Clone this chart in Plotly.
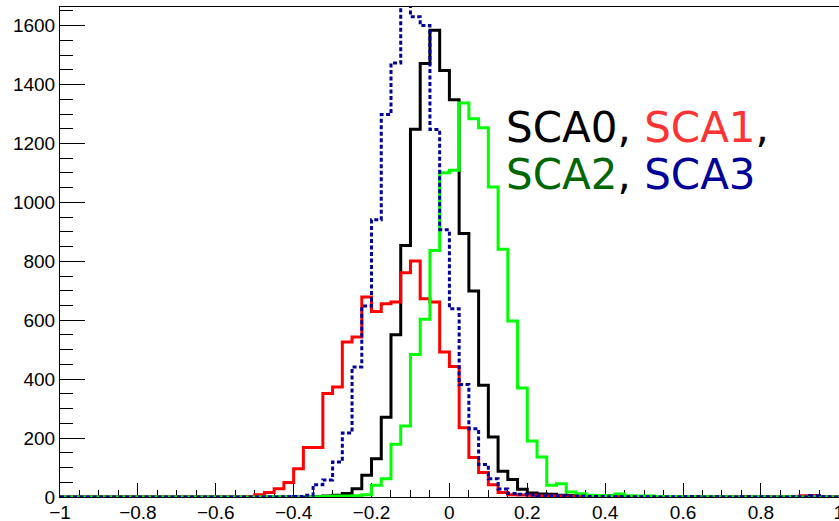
import numpy as np
import plotly.graph_objects as go

# 80 bins of width 0.025 spanning [-1, 1]
bin_low, bin_high, n_bins = -1.0, 1.0, 80

sca0 = [0]*20 + [
    0, 0, 0, 0, 0, 0, 1, 3, 6, 12, 28, 74, 130, 271, 551, 854, 1248, 1471, 1584, 1448,
    1348, 894, 699, 379, 204, 87, 59, 26, 14, 10, 9, 6, 5, 6, 4, 3, 4, 2, 2, 1,
    1, 0, 1, 0, 1, 0, 0, 0, 0, 0, 0, 0, 0, 0, 0, 0, 0, 0, 0, 0,
]
sca1 = [0]*19 + [2] + [
    8, 15, 28, 49, 96, 168, 168, 351, 373, 526, 543, 679, 630, 656, 662, 761, 801, 673, 662, 492,
    443, 235, 134, 83, 42, 15, 8, 7, 6, 4, 4, 3, 3, 2, 2, 1, 1, 1, 0, 0,
    0, 0, 0, 0, 0, 0, 0, 0, 0, 0, 1, 0, 0, 0, 0, 0, 4, 5, 0, 0,
]
sca2 = [0]*20 + [
    0, 0, 0, 0, 0, 1, 1, 2, 3, 3, 4, 8, 40, 62, 179, 241, 484, 603, 837, 1101,
    1109, 1337, 1284, 1253, 1052, 841, 597, 370, 190, 136, 40, 45, 17, 11, 6, 5, 4, 10, 4, 3,
    3, 2, 2, 1, 2, 1, 1, 0, 1, 0, 0, 1, 0, 0, 1, 0, 0, 1, 0, 0,
]
sca3 = [0]*20 + [
    0, 0, 0, 1, 2, 6, 42, 58, 119, 217, 441, 648, 941, 1298, 1473, 1720, 1630, 1600, 1247, 907,
    639, 382, 232, 110, 62, 27, 12, 9, 7, 5, 4, 4, 3, 3, 2, 2, 1, 1, 1, 1,
    1, 0, 1, 0, 2, 2, 0, 1, 0, 0, 1, 0, 1, 0, 0, 1, 0, 4, 1, 0,
]

x_tick_vals = [-1, -0.8, -0.6, -0.4, -0.2, 0, 0.2, 0.4, 0.6, 0.8, 1]
x_tick_text = ["\u22121", "\u22120.8", "\u22120.6", "\u22120.4", "\u22120.2",
               "0", "0.2", "0.4", "0.6", "0.8", "1"]

series = [
    ("SCA0", sca0, "#000000", "solid"),
    ("SCA1", sca1, "#ff0000", "solid"),
    ("SCA2", sca2, "#00ff00", "solid"),
    ("SCA3", sca3, "#000099", "4px,2.5px"),
]

edges = np.linspace(bin_low, bin_high, n_bins + 1)
y_max = 1.05 * max(sca0)

fig = go.Figure()
for name, counts, color, dash in series:
    ys = list(counts) + [counts[-1]]
    fig.add_trace(go.Scatter(
        x=edges, y=ys, mode="lines", name=name,
        line=dict(shape="hv", color=color, width=3, dash=dash),
        showlegend=False, hoverinfo="skip",
    ))

tick_font = dict(family="Liberation Sans, Arial, sans-serif", size=19, color="#000000")

fig.update_xaxes(
    range=[bin_low, bin_high + 0.0005], tickmode="array",
    tickvals=x_tick_vals, ticktext=x_tick_text, ticks="inside", ticklen=14,
    tickwidth=1, tickcolor="#000000", showline=True, linecolor="#000000", linewidth=1,
    mirror=True, showgrid=False, zeroline=False, tickfont=tick_font, automargin=False,
    ticklabelstandoff=-2, ticklabeloverflow="allow",
    minor=dict(tick0=-1, dtick=0.05, ticks="inside", ticklen=7, tickcolor="#000000",
               showgrid=False),
    layer="below traces",
)
fig.update_yaxes(
    range=[0, y_max], tick0=0, dtick=200, ticks="inside", ticklen=25,
    tickwidth=1, tickcolor="#000000", showline=True, linecolor="#000000", linewidth=1,
    mirror=True, showgrid=False, zeroline=False, tickfont=tick_font, automargin=False,
    minor=dict(dtick=50, ticks="inside", ticklen=13, tickcolor="#000000", showgrid=False),
    layer="below traces",
)

label_font = dict(family="DejaVu Sans", size=42, color="#000000")
fig.add_annotation(
    x=0.14, y=1255, xref="x", yref="y", xanchor="left", yanchor="middle",
    showarrow=False, font=label_font,
    text="<span style='color:#000000'>SCA0</span>, <span style='color:#ff3333'>SCA1</span>,",
)
fig.add_annotation(
    x=0.14, y=1095, xref="x", yref="y", xanchor="left", yanchor="middle",
    showarrow=False, font=label_font,
    text="<span style='color:#006600'>SCA2</span>, <span style='color:#000099'>SCA3</span>",
)

fig.update_layout(
    width=839, height=521,
    margin=dict(l=60, r=0, t=7, b=24),
    paper_bgcolor="#ffffff", plot_bgcolor="#ffffff",
)

fig.write_html("out.html")
